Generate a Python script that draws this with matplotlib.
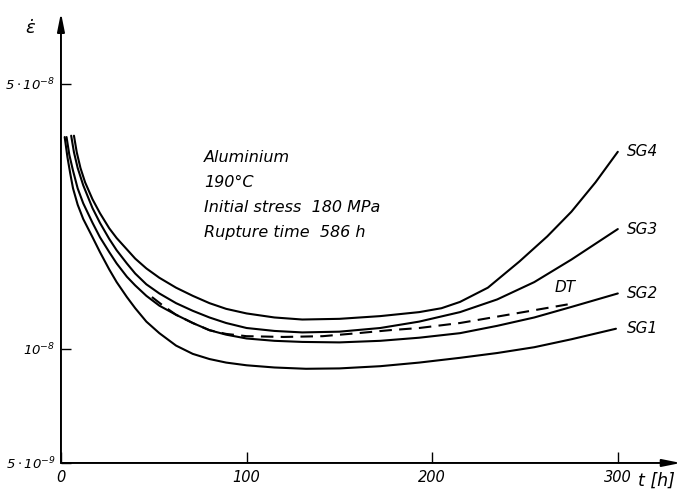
import matplotlib
matplotlib.use("Agg")
import numpy as np
import matplotlib.pyplot as plt

# strain rate curves, t in h, rate in units of 1e-8
sg1_t = [2, 3.5, 5, 6.5, 9, 12, 17, 21, 26, 30, 35.5, 40, 46, 53, 62, 71, 80, 89, 100,
         115, 132, 150, 172, 193, 215, 235, 255, 275, 299]
sg1_rate = [3.62, 3.2, 2.9, 2.65, 2.4, 2.2, 1.97, 1.80, 1.62, 1.50, 1.37, 1.28, 1.18, 1.10,
            1.02, 0.97, 0.94, 0.92, 0.905, 0.893, 0.886, 0.888, 0.90, 0.92, 0.947, 0.975,
            1.01, 1.06, 1.13]

sg2_t = [3, 4.5, 6.5, 9, 12, 17, 21, 26, 30, 35.5, 40, 46, 53, 62, 71, 80, 89, 100, 115,
         130, 150, 172, 193, 215, 235, 255, 275, 300]
sg2_rate = [3.62, 3.25, 2.95, 2.65, 2.42, 2.15, 1.97, 1.80, 1.68, 1.55, 1.47, 1.38, 1.30,
            1.23, 1.17, 1.12, 1.09, 1.065, 1.05, 1.043, 1.04, 1.05, 1.07, 1.10, 1.15, 1.21,
            1.29, 1.40]

sg3_t = [5.5, 7, 9, 12, 17, 21, 26, 30, 35.5, 40, 46, 53, 62, 71, 80, 89, 100, 115, 130,
         150, 172, 193, 215, 235, 255, 275, 300]
sg3_rate = [3.65, 3.3, 3.0, 2.7, 2.35, 2.15, 1.95, 1.82, 1.68, 1.58, 1.48, 1.40, 1.32, 1.26,
            1.21, 1.17, 1.135, 1.115, 1.105, 1.11, 1.135, 1.18, 1.25, 1.35, 1.50, 1.72, 2.07]

sg4_t = [7, 8.5, 10.5, 13, 17, 21, 26, 30, 35.5, 40, 46, 53, 62, 71, 80, 89, 100, 115, 130,
         150, 172, 193, 205, 215, 230, 247, 262, 275, 288, 300]
sg4_rate = [3.65, 3.3, 3.0, 2.75, 2.48, 2.28, 2.08, 1.96, 1.83, 1.73, 1.63, 1.54, 1.45, 1.38,
            1.32, 1.275, 1.24, 1.21, 1.195, 1.20, 1.22, 1.25, 1.28, 1.33, 1.45, 1.70, 1.98,
            2.3, 2.75, 3.31]

dt_t = [49, 55, 62, 71, 80, 89, 100, 120, 141, 160, 177, 193, 215, 245, 273]
dt_rate = [1.37, 1.30, 1.23, 1.17, 1.12, 1.095, 1.08, 1.075, 1.08, 1.10, 1.12, 1.135, 1.17,
           1.24, 1.31]

curve_labels = ["SG1", "SG2", "SG3", "SG4"]
info_lines = ["Aluminium", "190°C", "Initial stress  180 MPa", "Rupture time  586 h"]

x_ticks = [0, 100, 200, 300]
y_ticks = [5e-9, 1e-8, 5e-8]
y_tick_labels = [r"$5\cdot10^{-9}$", r"$10^{-8}$", r"$5\cdot10^{-8}$"]


def main():
    plt.rcParams["mathtext.fontset"] = "custom"
    plt.rcParams["mathtext.rm"] = "DejaVu Sans:italic"
    plt.rcParams["mathtext.it"] = "DejaVu Sans:italic"

    fig = plt.figure(figsize=(6.82, 4.92), dpi=100)
    ax = fig.add_axes([0.0894, 0.059, 0.909, 0.915])
    ax.set_yscale("log")
    ax.set_xlim(0, 334)
    ax.set_ylim(5e-9, 7.7e-8)

    lw = 1.5
    for t, r in [(sg1_t, sg1_rate), (sg2_t, sg2_rate), (sg3_t, sg3_rate), (sg4_t, sg4_rate)]:
        ax.plot(t, np.array(r) * 1e-8, color="black", lw=lw, solid_capstyle="round",
                solid_joinstyle="round")
    ax.plot(dt_t, np.array(dt_rate) * 1e-8, color="black", lw=lw, dashes=(6, 3.5))

    # labels at right end of curves
    ends = [sg1_rate[-1], sg2_rate[-1], sg3_rate[-1], sg4_rate[-1]]
    for name, r in zip(curve_labels, ends):
        ax.text(305, r * 1e-8, name, fontsize=11, style="italic", va="center", ha="left")
    ax.text(266, dt_rate[-1] * 1e-8 * 1.06, "DT", fontsize=11, style="italic", va="bottom", ha="left")

    # info block
    for i, line in enumerate(info_lines):
        ax.text(77, 3.2e-8 / (1.165 ** i), line, fontsize=11.5, style="italic", va="center", ha="left")

    # axes with arrow heads, no box
    for s in ["top", "right", "left", "bottom"]:
        ax.spines[s].set_visible(False)
    arrow = dict(arrowstyle="-|>,head_length=1.1,head_width=0.22", color="black", lw=1.4,
                 shrinkA=0, shrinkB=0)
    ax.annotate("", xy=(1, 0), xytext=(0, 0), xycoords="axes fraction", arrowprops=arrow)
    ax.annotate("", xy=(0, 1), xytext=(0, 0), xycoords="axes fraction", arrowprops=arrow)

    ax.set_xticks(x_ticks)
    ax.set_xticklabels([str(v) for v in x_ticks], fontsize=10.5, style="italic")
    ax.set_yticks(y_ticks)
    ax.set_yticklabels(y_tick_labels, fontsize=9.5, style="italic")
    ax.minorticks_off()
    ax.tick_params(axis="x", direction="in", length=8, width=1, pad=5)
    ax.tick_params(axis="y", direction="in", length=7, width=1, pad=4)

    ax.text(0.99, -0.02, "t [h]", transform=ax.transAxes, fontsize=12.5, style="italic",
            ha="right", va="top")
    ax.text(-0.04, 0.965, r"$\dot{\varepsilon}$", transform=ax.transAxes, fontsize=13,
            ha="right", va="center")

    fig.savefig("out.png", dpi=100)


if __name__ == "__main__":
    main()
